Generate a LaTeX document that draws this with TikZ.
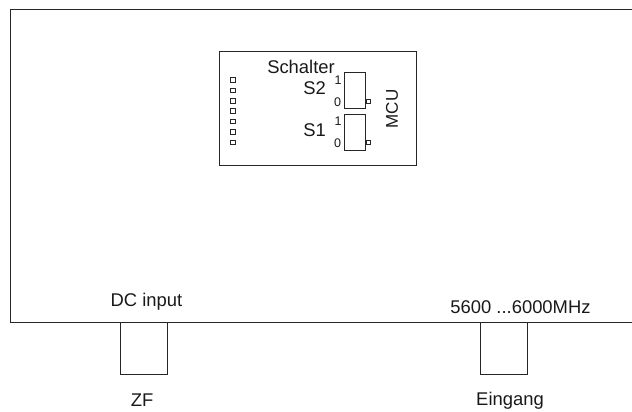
\documentclass[tikz,border=0pt]{standalone}
\usepackage{fontspec}
\setmainfont{Liberation Sans}
\tikzset{
  x=1pt,y=-1pt,
  box/.style={draw=black!85,line width=0.9pt,fill=none},
  lbl/.style={font=\fontsize{18.4}{20}\selectfont,text=black!90,inner sep=0pt},
  small/.style={font=\fontsize{12.5}{14}\selectfont,text=black!90,inner sep=0pt}
}
\newcommand{\pin}[2]{\draw[draw=black!85,line width=0.7pt] (#1,#2) rectangle +(4.5,4.5);}
\begin{document}
\begin{tikzpicture}
\useasboundingbox (0,0) rectangle (632,412);
\draw[draw=black!85,line width=0.9pt] (632,9.5) -- (10.5,9.5) -- (10.5,322.5) -- (632,322.5);
\draw[box] (219.5,51.5) rectangle (416.5,165.5);
\draw[box] (344.5,72.5) rectangle (365.5,108.5);
\draw[box] (344.5,114.5) rectangle (365.5,150.5);
\pin{366}{99}\pin{366}{140}
\foreach \y in {77.5,88,98.5,108.5,119,129.5,140} {\pin{230.5}{\y}}
\draw[box] (120.5,322.5) rectangle (167.5,374.5);
\draw[box] (480.5,322.5) rectangle (527.5,374.5);
\node[lbl] (schalter) at (301,66.5) {Schalter};
\node[lbl] (s2) at (314.5,88) {S2};
\node[lbl] (s1) at (314.5,130) {S1};
\node[small] (a1) at (338,80) {1};
\node[small] (a0) at (337.5,102) {0};
\node[small] (b1) at (338,121) {1};
\node[small] (b0) at (337.5,143) {0};
\node[lbl,font=\fontsize{17}{19}\selectfont,rotate=90] (mcu) at (392,109) {MCU};
\node[lbl] (dc) at (146.5,302) {DC input};
\node[lbl] (freq) at (520.5,307) {5600 ...6000MHz};
\node[lbl] (zf) at (142,400.5) {ZF};
\node[lbl] (ein) at (510,400.5) {Eingang};
\end{tikzpicture}
\end{document}
